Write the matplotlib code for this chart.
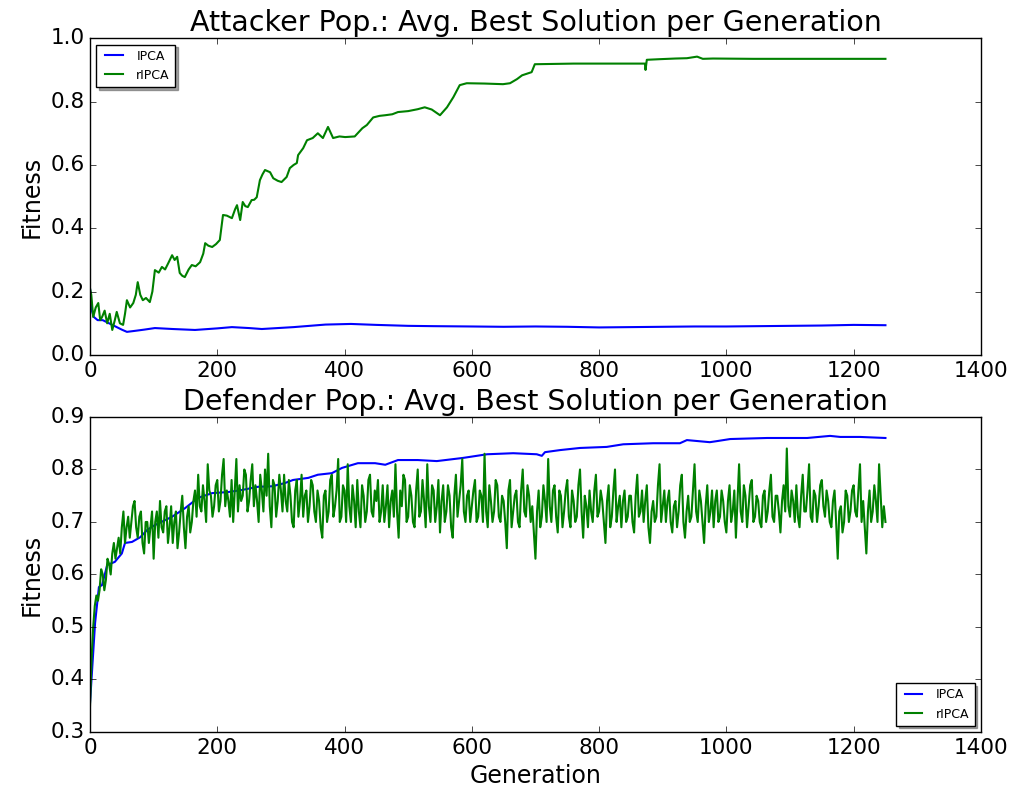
"""
plot.py
-------
Average best fitness per generation for the attacker and defender populations.
"""

import matplotlib
matplotlib.use("Agg")
import matplotlib.pyplot as plt
import numpy as np

# Attacker population, IPCA (generation, fitness)
atk_ipca_gen = [0, 3, 6, 12, 20, 30, 40, 50, 58, 70, 85, 102, 130, 165, 200, 223,
                250, 270, 320, 370, 410, 450, 500, 540, 600, 650, 700, 750, 800,
                850, 900, 950, 1000, 1050, 1100, 1150, 1200, 1250]
atk_ipca_fit = [0.21, 0.14, 0.12, 0.11, 0.11, 0.10, 0.09, 0.08, 0.073, 0.076, 0.08,
                0.085, 0.082, 0.079, 0.084, 0.088, 0.085, 0.082, 0.088, 0.096, 0.098,
                0.095, 0.092, 0.091, 0.09, 0.089, 0.09, 0.089, 0.087, 0.088, 0.089,
                0.09, 0.09, 0.091, 0.092, 0.093, 0.095, 0.094]

# Attacker population, rIPCA (generation, fitness)
atk_ripca_gen = [0, 2, 5, 9, 13, 16, 19, 23, 27, 31, 35, 39, 42, 47, 52, 55, 58, 63,
                 68, 72, 75, 79, 83, 88, 94, 98, 102, 108, 113, 118, 123, 129, 133,
                 137, 141, 145, 149, 155, 160, 166, 173, 178, 181, 186, 192, 198, 204,
                 209, 215, 223, 228, 231, 236, 240, 244, 248, 254, 258, 262, 267, 271,
                 275, 283, 288, 295, 301, 309, 314, 320, 325, 327, 335, 341, 350, 358,
                 366, 374, 382, 392, 401, 416, 428, 435, 445, 455, 464, 475, 484, 500,
                 515, 526, 537, 550, 561, 571, 581, 592, 620, 649, 660, 671, 679, 694,
                 699, 760, 820, 872, 873, 875, 896, 920, 938, 954, 963, 979, 1042, 1100,
                 1150, 1200, 1250]
atk_ripca_fit = [0.21, 0.19, 0.12, 0.15, 0.164, 0.11, 0.12, 0.14, 0.10, 0.13, 0.079,
                 0.11, 0.136, 0.10, 0.095, 0.13, 0.173, 0.15, 0.164, 0.19, 0.23, 0.19,
                 0.173, 0.18, 0.167, 0.20, 0.268, 0.26, 0.278, 0.27, 0.29, 0.315, 0.30,
                 0.31, 0.259, 0.25, 0.246, 0.27, 0.284, 0.28, 0.293, 0.32, 0.353, 0.345,
                 0.341, 0.35, 0.363, 0.442, 0.44, 0.432, 0.46, 0.473, 0.426, 0.483, 0.47,
                 0.467, 0.489, 0.49, 0.498, 0.552, 0.57, 0.584, 0.577, 0.558, 0.55,
                 0.546, 0.562, 0.59, 0.60, 0.606, 0.631, 0.653, 0.678, 0.685, 0.70,
                 0.685, 0.72, 0.685, 0.69, 0.688, 0.69, 0.716, 0.726, 0.75, 0.755,
                 0.757, 0.76, 0.767, 0.77, 0.776, 0.782, 0.775, 0.757, 0.782, 0.814,
                 0.852, 0.858, 0.857, 0.855, 0.858, 0.871, 0.883, 0.893, 0.918, 0.92,
                 0.92, 0.92, 0.90, 0.932, 0.934, 0.936, 0.937, 0.942, 0.935, 0.936,
                 0.935, 0.935, 0.935, 0.935, 0.935]

# Defender population, IPCA (generation, fitness)
def_ipca_gen = [0, 8, 14, 19, 27, 39, 50, 55, 66, 79, 90, 102, 129, 149, 170, 192,
                217, 239, 264, 286, 306, 319, 343, 358, 380, 396, 421, 448, 464, 484,
                515, 545, 586, 624, 665, 702, 710, 715, 739, 770, 812, 838, 885, 927,
                938, 974, 985, 1006, 1064, 1127, 1163, 1179, 1210, 1250]
def_ipca_fit = [0.355, 0.508, 0.576, 0.58, 0.618, 0.624, 0.64, 0.66, 0.662, 0.671,
                0.685, 0.694, 0.71, 0.726, 0.746, 0.755, 0.757, 0.761, 0.767, 0.768,
                0.774, 0.78, 0.784, 0.79, 0.793, 0.803, 0.812, 0.812, 0.809, 0.818,
                0.818, 0.816, 0.822, 0.829, 0.831, 0.829, 0.826, 0.833, 0.837, 0.841,
                0.843, 0.848, 0.85, 0.85, 0.856, 0.852, 0.854, 0.858, 0.86, 0.86,
                0.864, 0.862, 0.862, 0.86]

# Defender population, rIPCA: values at generations 0, 5, 10, ..., 1250
def_ripca_fit_a = [
    0.35, 0.50, 0.56, 0.57, 0.60, 0.59, 0.62, 0.64, 0.63, 0.67,
    0.69, 0.66, 0.71, 0.70, 0.74, 0.67, 0.72, 0.64, 0.70, 0.69,
    0.63, 0.72, 0.74, 0.68, 0.73, 0.69, 0.66, 0.72, 0.68, 0.75,
    0.65, 0.73, 0.70, 0.76, 0.79, 0.72, 0.74, 0.81, 0.75, 0.73,
    0.78, 0.74, 0.82, 0.76, 0.71, 0.70, 0.82, 0.77, 0.75, 0.79,
    0.74, 0.81, 0.77, 0.70, 0.76, 0.80, 0.83, 0.69, 0.77, 0.74,
    0.76, 0.79, 0.72, 0.75, 0.69, 0.78, 0.74, 0.71, 0.76, 0.73,
    0.77, 0.70, 0.74, 0.67, 0.76, 0.72, 0.79, 0.73, 0.82, 0.71,
    0.76, 0.81, 0.70, 0.74, 0.78, 0.69, 0.75, 0.72, 0.79, 0.71,
    0.74, 0.70, 0.77, 0.73, 0.69, 0.76, 0.81, 0.67, 0.73, 0.78,
    0.71, 0.75, 0.69, 0.80, 0.72, 0.74, 0.81, 0.70, 0.76, 0.73,
    0.68, 0.77, 0.72, 0.75, 0.67, 0.79, 0.74, 0.82, 0.70, 0.76,
    0.73, 0.78, 0.71, 0.75, 0.83, 0.69, 0.74, 0.72, 0.77, 0.70,
    0.74, 0.65, 0.78, 0.72, 0.76, 0.69, 0.80, 0.71, 0.75, 0.73,
    0.63, 0.76, 0.71, 0.74, 0.82, 0.70, 0.77, 0.68, 0.75, 0.72,
    0.78, 0.69, 0.74, 0.71, 0.80, 0.67, 0.73, 0.76, 0.70, 0.79,
    0.72, 0.74, 0.66, 0.77, 0.71, 0.80, 0.73, 0.69, 0.76, 0.71,
    0.75, 0.68, 0.79, 0.72, 0.70, 0.77, 0.66, 0.74, 0.71, 0.81,
    0.73, 0.70, 0.76, 0.68, 0.74, 0.72, 0.79, 0.67, 0.75, 0.71,
    0.81, 0.70, 0.74, 0.66, 0.77, 0.72, 0.69, 0.76, 0.71, 0.74,
    0.68, 0.77, 0.72, 0.67, 0.81, 0.70, 0.75, 0.73, 0.78, 0.71,
    0.74, 0.69, 0.76, 0.72, 0.79, 0.70, 0.75, 0.68, 0.77, 0.84,
    0.71, 0.74, 0.77, 0.69, 0.79, 0.72, 0.81, 0.70, 0.75, 0.73,
    0.78, 0.71, 0.74, 0.69, 0.76, 0.63, 0.73, 0.70, 0.75, 0.72,
    0.77, 0.71, 0.81, 0.74, 0.64, 0.76, 0.72, 0.74, 0.81, 0.69,
    0.70,
]
# Defender population, rIPCA: values at generations 2.5, 7.5, ..., 1247.5
def_ripca_fit_b = [
    0.44, 0.54, 0.55, 0.61, 0.57, 0.63, 0.60, 0.66, 0.65, 0.64,
    0.72, 0.69, 0.67, 0.73, 0.69, 0.71, 0.66, 0.70, 0.66, 0.72,
    0.70, 0.67, 0.69, 0.72, 0.66, 0.73, 0.70, 0.65, 0.72, 0.69,
    0.71, 0.68, 0.74, 0.71, 0.73, 0.77, 0.70, 0.76, 0.71, 0.77,
    0.72, 0.79, 0.73, 0.74, 0.78, 0.76, 0.72, 0.74, 0.80, 0.72,
    0.78, 0.73, 0.74, 0.79, 0.72, 0.75, 0.73, 0.78, 0.71, 0.79,
    0.72, 0.74, 0.78, 0.70, 0.76, 0.71, 0.79, 0.75, 0.70, 0.78,
    0.72, 0.76, 0.69, 0.75, 0.70, 0.78, 0.71, 0.76, 0.70, 0.77,
    0.70, 0.73, 0.77, 0.69, 0.72, 0.77, 0.70, 0.78, 0.72, 0.76,
    0.78, 0.72, 0.70, 0.77, 0.74, 0.71, 0.72, 0.76, 0.79, 0.70,
    0.77, 0.70, 0.76, 0.71, 0.78, 0.69, 0.73, 0.77, 0.70, 0.78,
    0.74, 0.70, 0.77, 0.69, 0.75, 0.71, 0.77, 0.72, 0.75, 0.70,
    0.76, 0.70, 0.76, 0.70, 0.72, 0.77, 0.70, 0.78, 0.71, 0.75,
    0.70, 0.76, 0.69, 0.75, 0.70, 0.76, 0.72, 0.77, 0.70, 0.68,
    0.72, 0.69, 0.77, 0.70, 0.73, 0.76, 0.71, 0.76, 0.69, 0.76,
    0.71, 0.76, 0.70, 0.77, 0.72, 0.75, 0.69, 0.72, 0.76, 0.71,
    0.76, 0.70, 0.74, 0.69, 0.76, 0.70, 0.75, 0.74, 0.70, 0.75,
    0.70, 0.75, 0.71, 0.76, 0.74, 0.69, 0.72, 0.70, 0.77, 0.70,
    0.76, 0.74, 0.70, 0.73, 0.69, 0.77, 0.70, 0.72, 0.70, 0.76,
    0.72, 0.76, 0.70, 0.73, 0.70, 0.76, 0.74, 0.70, 0.76, 0.70,
    0.74, 0.70, 0.76, 0.74, 0.72, 0.77, 0.69, 0.77, 0.70, 0.75,
    0.70, 0.75, 0.70, 0.76, 0.71, 0.75, 0.72, 0.74, 0.72, 0.73,
    0.76, 0.70, 0.71, 0.75, 0.72, 0.76, 0.71, 0.76, 0.70, 0.77,
    0.73, 0.76, 0.70, 0.74, 0.70, 0.72, 0.68, 0.76, 0.70, 0.76,
    0.72, 0.76, 0.70, 0.69, 0.72, 0.70, 0.77, 0.70, 0.75, 0.73,
]

def_ripca_gen = np.concatenate([np.arange(len(def_ripca_fit_a)) * 5.0,
                                np.arange(len(def_ripca_fit_b)) * 5.0 + 2.5])
def_ripca_fit = np.concatenate([def_ripca_fit_a, def_ripca_fit_b])
order = np.argsort(def_ripca_gen)
def_ripca_gen = def_ripca_gen[order]
def_ripca_fit = def_ripca_fit[order]

plt.style.use("classic")
plt.rcParams["font.family"] = ["DejaVu Sans"]

fig = plt.figure(figsize=(10.17, 7.97), dpi=100)
ax1 = fig.add_axes([0.0885, 0.5546, 0.876, 0.3974])
ax2 = fig.add_axes([0.0885, 0.0816, 0.876, 0.3952])

ax1.plot(atk_ipca_gen, atk_ipca_fit, color="b", linewidth=1.5, label="IPCA")
ax1.plot(atk_ripca_gen, atk_ripca_fit, color="g", linewidth=1.5, label="rIPCA")
ax1.set_xlim(0, 1400)
ax1.set_ylim(0.0, 1.0)
ax1.set_title("Attacker Pop.: Avg. Best Solution per Generation", fontsize=20.5)
ax1.set_ylabel("Fitness", fontsize=17)
ax1.legend(loc="upper left", fontsize=9, shadow=True)

ax2.plot(def_ipca_gen, def_ipca_fit, color="b", linewidth=1.5, label="IPCA")
ax2.plot(def_ripca_gen, def_ripca_fit, color="g", linewidth=1.5, label="rIPCA")
ax2.set_xlim(0, 1400)
ax2.set_ylim(0.3, 0.9)
ax2.set_title("Defender Pop.: Avg. Best Solution per Generation", fontsize=20.5)
ax2.set_ylabel("Fitness", fontsize=17)
ax2.set_xlabel("Generation", fontsize=17)
ax2.legend(loc="lower right", fontsize=9, shadow=True)

for ax in (ax1, ax2):
    ax.tick_params(labelsize=15.5)

fig.savefig("out.png", dpi=100)
